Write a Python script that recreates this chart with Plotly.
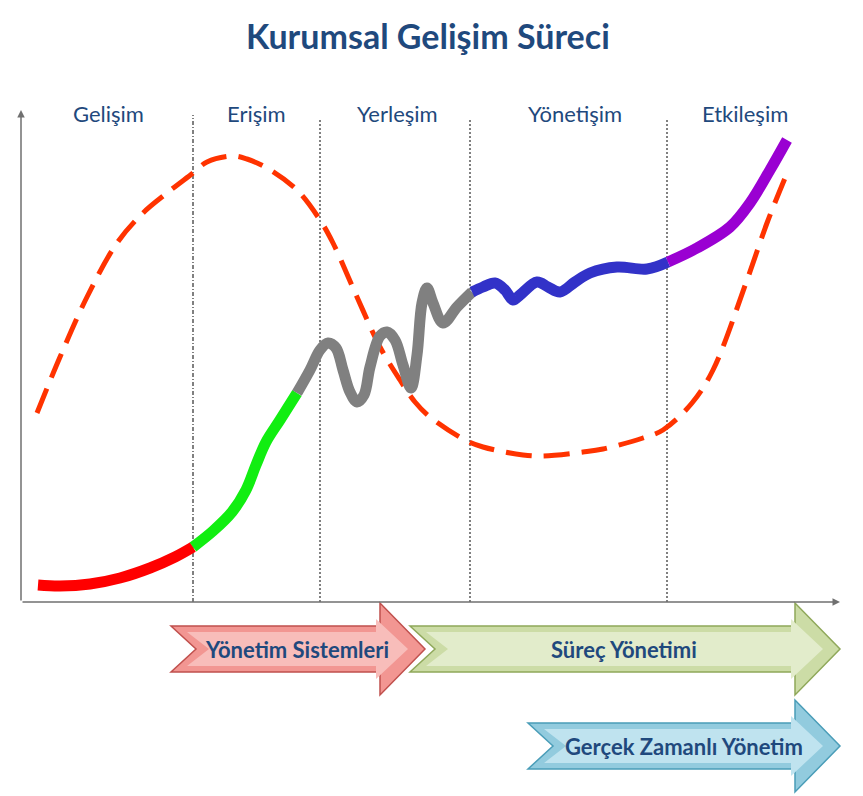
import plotly.graph_objects as go

# Stage names along the top and where they sit (x units, origin at the y-axis)
stages = ["Gelişim", "Erişim", "Yerleşim", "Yönetişim", "Etkileşim"]
stage_label_x = [8.7, 23.5, 37.6, 55.4, 72.4]
stage_bounds = [17.2, 29.9, 44.9, 64.6]

# Dashed curve
dash_x = [1.6, 3.9, 6.6, 9.6, 12.2, 14.6, 17.2, 18.6, 21.2, 22.6, 24.6, 27.6, 29.9, 31.2,
          33.6, 35.9, 37.9, 39.4, 40.9, 44.4, 46.2, 50.2, 52.2, 56.2, 58.2, 62.2, 64.2,
          67.1, 69.2, 72.6, 74.6, 76.4]
dash_y = [18.9, 24.5, 30.5, 35.9, 38.9, 40.9, 42.9, 44.0, 44.6, 44.3, 43.4, 41.2, 38.2, 35.9,
          30.5, 25.5, 22.2, 20.0, 18.5, 16.2, 15.5, 14.7, 14.6, 15.0, 15.3, 16.4, 17.2,
          19.9, 23.2, 32.2, 37.9, 42.4]

# Solid development curve, one piece per phase
red_x = [1.7, 3.9, 6.9, 9.9, 12.9, 15.4, 17.2]
red_y = [1.7, 1.6, 1.8, 2.4, 3.4, 4.5, 5.5]
green_x = [17.2, 19.2, 21.1, 22.5, 23.5, 24.5, 25.9, 27.6]
green_y = [5.5, 7.1, 9.0, 11.2, 13.7, 16.0, 18.2, 20.9]
gray_x = [27.6, 28.9, 29.9, 30.7, 31.5, 32.2, 32.9, 33.6, 34.3, 34.9, 35.9, 36.6, 37.4, 38.2,
          39.0, 39.6, 40.1, 40.6, 41.2, 42.2, 43.6, 45.1]
gray_y = [20.9, 23.2, 25.2, 25.9, 25.4, 23.2, 21.0, 20.0, 20.7, 23.5, 26.6, 27.0, 26.2, 23.7,
          21.4, 24.7, 29.9, 31.4, 29.9, 27.9, 29.5, 31.0]
blue_x = [45.1, 46.2, 47.4, 48.4, 49.2, 49.9, 51.6, 52.7, 53.9, 55.4, 56.9, 59.6, 62.6, 64.7]
blue_y = [31.0, 31.5, 31.9, 31.2, 30.2, 30.7, 32.0, 31.5, 31.0, 32.0, 32.9, 33.5, 33.3, 34.0]
purple_x = [64.7, 67.6, 70.9, 72.9, 74.9, 76.6]
purple_y = [34.0, 35.4, 37.5, 39.9, 43.2, 46.2]

# Block arrows under the axis
arrow_labels = ["Yönetim Sistemleri", "Süreç Yönetimi", "Gerçek Zamanlı Yönetim"]
arrow_start = [15.0, 38.9, 50.7]
arrow_body_end = [35.9, 77.4, 77.4]
arrow_tip = [40.4, 81.9, 81.9]
arrow_mid_y = [-4.7, -4.7, -14.4]
arrow_label_x = [27.6, 60.3, 66.3]
arrow_fill = ["#F29692", "#CCDCA6", "#92CBDE"]
arrow_shine = ["#F8BDBA", "#E2ECCB", "#BFE3EF"]
arrow_edge = ["#C0504D", "#8FA85A", "#4A9DB8"]

navy = "#1F497D"
font = "Lato"

fig = go.Figure()

fig.add_trace(go.Scatter(x=dash_x, y=dash_y, mode="lines", line_shape="spline",
                         line=dict(color="#FF3300", width=5, dash="26px,12px"),
                         hoverinfo="skip"))

for xs, ys, col in [(red_x, red_y, "#FF0000"), (green_x, green_y, "#11EE11"),
                    (gray_x, gray_y, "#808080"), (blue_x, blue_y, "#3232C8"),
                    (purple_x, purple_y, "#9A00D2")]:
    fig.add_trace(go.Scatter(x=xs, y=ys, mode="lines", line_shape="spline",
                             line=dict(color=col, width=11), hoverinfo="skip"))

# vertical dotted phase separators
for i, bx in enumerate(stage_bounds):
    fig.add_shape(type="line", x0=bx, x1=bx, y0=0, y1=48.7 if i == 0 else 48.4,
                  line=dict(color="#808080", width=2,
                            dash="4px,2px,1px,2px" if i == 0 else "2px,2px"),
                  layer="below")


def arrow_path(x0, xb, xt, ym, hb, hh, notch):
    return (f"M {x0},{ym + hb} L {xb},{ym + hb} L {xb},{ym + hh} L {xt},{ym} "
            f"L {xb},{ym - hh} L {xb},{ym - hb} L {x0},{ym - hb} L {x0 + notch},{ym} Z")


# block arrows, with a lighter inner face for a bevelled look
for i in range(3):
    x0, xb, xt, ym = arrow_start[i], arrow_body_end[i], arrow_tip[i], arrow_mid_y[i]
    fig.add_shape(type="path", path=arrow_path(x0, xb, xt, ym, 2.3, 4.6, 2.5),
                  fillcolor=arrow_fill[i], line=dict(color=arrow_edge[i], width=1.5))
    fig.add_shape(type="path", path=arrow_path(x0 + 1.6, xb - 0.4, xt - 1.7, ym, 1.7, 3.0, 2.2),
                  fillcolor=arrow_shine[i], line=dict(width=0))
    fig.add_annotation(x=arrow_label_x[i], y=ym, text="<b>" + arrow_labels[i] + "</b>",
                       showarrow=False, font=dict(family=font, size=22, color=navy))

# axes with arrow tips
fig.add_annotation(x=81.9, y=0, ax=0, ay=0, axref="x", ayref="y", text="",
                   showarrow=True, arrowhead=2, arrowsize=1, arrowwidth=1.5,
                   arrowcolor="#707070")
fig.add_annotation(x=0, y=49.2, ax=0, ay=0, axref="x", ayref="y", text="",
                   showarrow=True, arrowhead=2, arrowsize=1, arrowwidth=1.5,
                   arrowcolor="#707070")

for name, sx in zip(stages, stage_label_x):
    fig.add_annotation(x=sx, y=48.9, text=name, showarrow=False,
                       font=dict(family=font, size=22, color=navy))

fig.add_annotation(x=0.496, y=0.956, xref="paper", yref="paper", yanchor="middle",
                   text="<b>Kurumsal Gelişim Süreci</b>", showarrow=False,
                   font=dict(family=font, size=34, color=navy))

fig.update_layout(
    width=863, height=796,
    margin=dict(l=0, r=0, t=0, b=0),
    paper_bgcolor="white", plot_bgcolor="white",
    showlegend=False,
    xaxis=dict(range=[-2.1, 84.2], visible=False, fixedrange=True),
    yaxis=dict(range=[-19.4, 60.2], visible=False, fixedrange=True),
)

fig.write_html("out.html", config={"displayModeBar": False},
               post_script="document.body.style.margin='0px';")
